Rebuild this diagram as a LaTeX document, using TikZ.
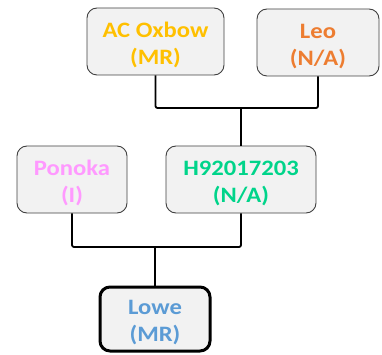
\documentclass[tikz,border=0pt]{standalone}
\usepackage{fontspec}
\setmainfont{Carlito}
\definecolor{boxfill}{HTML}{F2F2F2}
\definecolor{boxline}{HTML}{404040}
\definecolor{cOxbow}{HTML}{FFC000}
\definecolor{cLeo}{HTML}{ED7D31}
\definecolor{cPonoka}{HTML}{FF99FF}
\definecolor{cH}{HTML}{00D48A}
\definecolor{cLowe}{HTML}{5B9BD5}
% two-line label: slightly widened glyphs, extra room above the first line
\newcommand{\twolines}[2]{\rule{0pt}{22pt}\scalebox{1.12}[1]{#1}\\\scalebox{1.12}[1]{#2}}
\tikzset{
  person/.style={draw=boxline, line width=0.9pt, fill=boxfill, rounded corners=10pt,
    minimum height=67pt, align=center, inner sep=0pt,
    font=\fontsize{22}{27}\selectfont\bfseries},
  focus/.style={person, draw=black, line width=3pt},
  link/.style={draw=black, line width=1.8pt, rounded corners=2pt}
}
\begin{document}
\begin{tikzpicture}[x=1pt, y=-1pt]
  \useasboundingbox (0,0) rectangle (382,355);
  % parents generation
  \node[person, minimum width=137pt, text=cOxbow] (ox) at (155.5,41.5) {\twolines{AC Oxbow}{(MR)}};
  \node[person, minimum width=122pt, text=cLeo] (leo) at (318,42.5) {\twolines{Leo}{(N/A)}};
  % middle generation
  \node[person, minimum width=110pt, text=cPonoka] (po) at (72,179.5) {\twolines{Ponoka}{(I)}};
  \node[person, minimum width=150pt, text=cH] (h9) at (241,179.5) {\twolines{H92017203}{(N/A)}};
  % offspring
  \node[focus, minimum width=110pt, minimum height=64pt, text=cLowe] (lowe) at (155,319) {\twolines{Lowe}{(MR)}};
  % junctions
  \coordinate (j1) at (h9.north |- 0,108);
  \coordinate (j2) at (lowe.north |- 0,247);
  \draw[link] (ox.south) |- (j1) -| (leo.south);
  \draw[link] (j1) -- (h9.north);
  \draw[link] (po.south) |- (j2) -| (h9.south);
  \draw[link] (j2) -- (lowe.north);
\end{tikzpicture}
\end{document}
